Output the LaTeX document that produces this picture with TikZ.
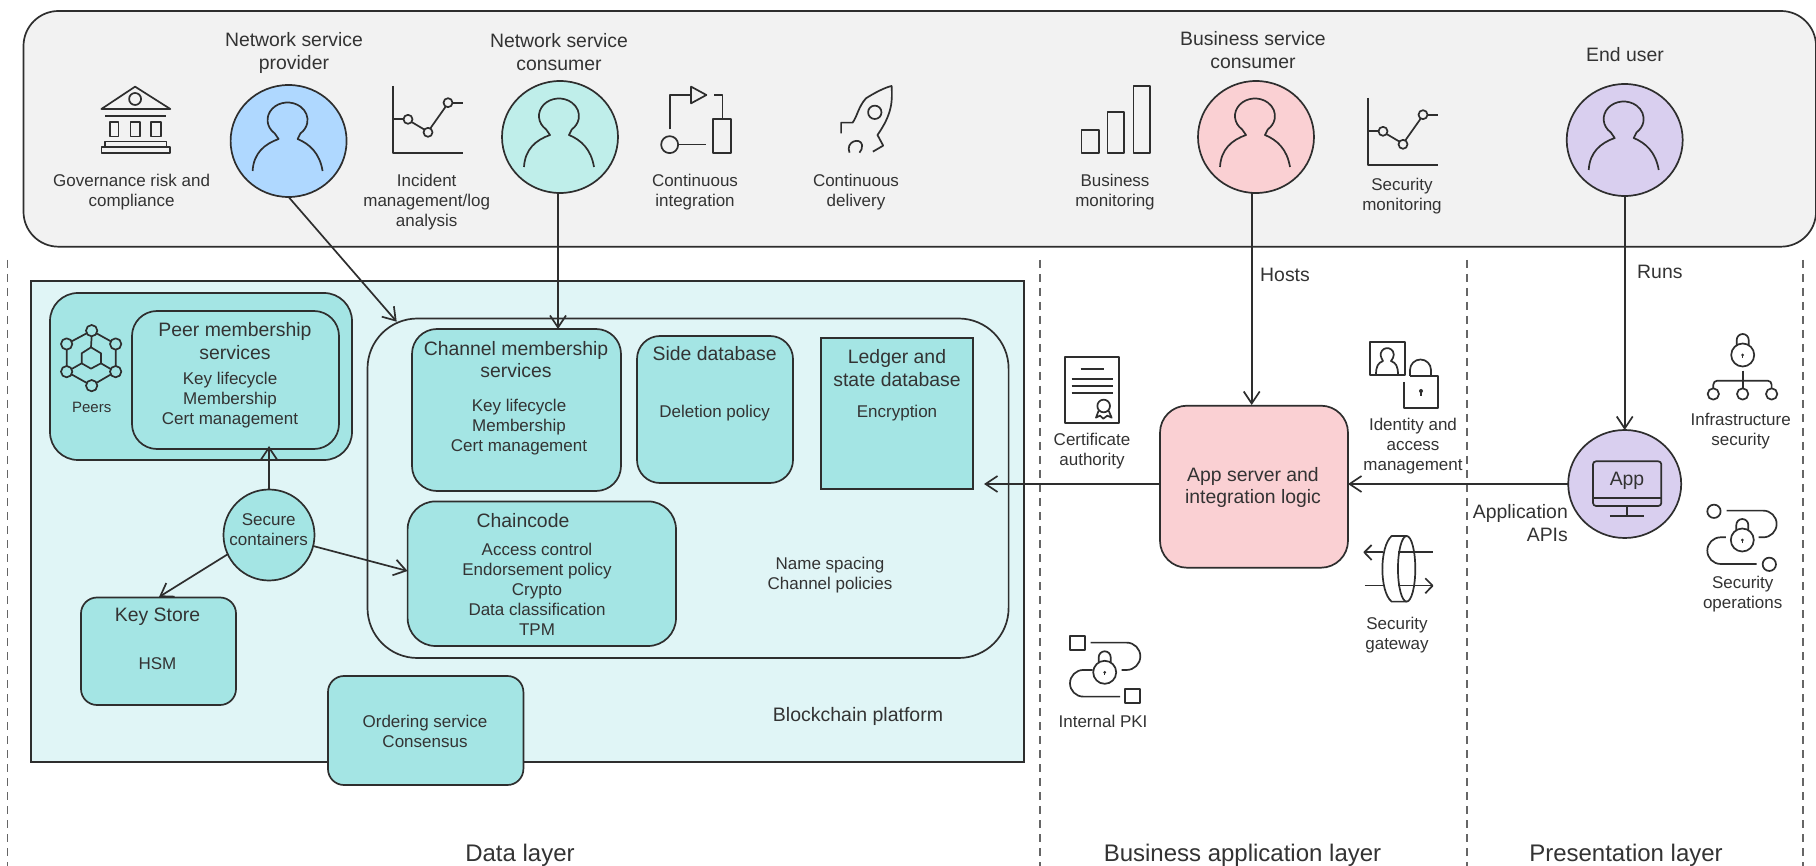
\documentclass[tikz,border=0pt]{standalone}
\usepackage{fontspec}
\setmainfont{Liberation Sans}
\usetikzlibrary{arrows.meta,shapes.geometric}
\definecolor{ink}{HTML}{2E2E2E}
\definecolor{txt}{HTML}{333333}
\definecolor{panel}{HTML}{F2F2F2}
\definecolor{plat}{HTML}{E0F5F6}
\definecolor{teal}{HTML}{A4E5E4}
\definecolor{blueP}{HTML}{AFD8FF}
\definecolor{tealP}{HTML}{BFEEEA}
\definecolor{pinkP}{HTML}{FAD0D3}
\definecolor{lilac}{HTML}{D9CFEF}
\newcommand{\fs}{\fontsize{17}{20}\selectfont}
\newcommand{\fm}{\fontsize{19.4}{22.7}\selectfont}
\newcommand{\fb}{\fontsize{24}{27}\selectfont}
\newcommand{\mkbox}[7][]{%
  \pgfmathsetmacro\cxx{(#4+#6)/2}\pgfmathsetmacro\cyy{(#5+#7)/2}%
  \pgfmathsetmacro\wdd{#6-#4}\pgfmathsetmacro\htt{#7-#5}%
  \node[boxnode,#1,fill=#3,minimum width=\wdd pt,minimum height=\htt pt] (#2) at (\cxx,\cyy) {};}
\newcommand{\mkell}[6]{%
  \node[ellnode,fill=#2,minimum width=#5 pt,minimum height=#6 pt] (#1) at (#3,#4) {};}
\tikzset{
  x=1pt,y=-1pt,
  boxnode/.style={rectangle,draw=ink,line width=1.7pt,inner sep=0pt,outer sep=0pt},
  ellnode/.style={ellipse,draw=ink,line width=1.7pt,inner sep=0pt,outer sep=0pt},
  ts/.style={text=txt,font=\fs,align=center,inner sep=0pt},
  tm/.style={text=txt,font=\fm,align=center,inner sep=0pt},
  tb/.style={text=txt,font=\fb,align=center,inner sep=0pt},
  icon/.style={draw=ink,line width=1.7pt,line join=round},
  conn/.style={draw=ink,line width=1.7pt,-{Straight Barb[length=12pt,width=16pt]}},
  layerline/.style={draw=black!60,line width=1.5pt,dash pattern=on 8pt off 6pt},
  pics/person/.style={code={
    \draw[icon] (-36,30) .. controls (-35,12) and (-24,3) .. (-10,-2) -- (-13.9,-7.6)
      arc[start angle=130,end angle=410,x radius=20,y radius=17.5]
      -- (9,-2) .. controls (21,3) and (31,12) .. (34,30);
  }},
  pics/chart/.style={code={
    \draw[icon] (0,0) -- (0,67) -- (70,67);
    \draw[icon] (0,33.3) -- (10.5,33.3);
    \draw[icon] (15,33.3) circle (4.5);
    \draw[icon] (35,46.3) circle (4.5);
    \draw[icon] (55,16.7) circle (4.5);
    \draw[icon] (18.6,36) -- (31.4,43.6);
    \draw[icon] (37.3,42.4) -- (52.7,20.6);
    \draw[icon] (59.5,16.7) -- (70,16.7);
  }},
  pics/lockicon/.style={code={
    \draw[icon] (0,0) circle (11.5);
    \draw[icon] (-6,-10) -- (-6,-15) arc[start angle=180,end angle=360,radius=6] -- (6,-10);
    \fill[ink] (0,0) circle (1.5);
    \draw[ink,line width=1.1pt] (0,0) -- (0,3);
  }},
}
\begin{document}
\begin{tikzpicture}
\useasboundingbox (0,0) rectangle (1816,866);
\fill[white] (0,0) rectangle (1816,866);
% layer separators
\coordinate (s1a) at (7.6,260); \coordinate (s1b) at (7.6,866);
\coordinate (s2a) at (1040,260); \coordinate (s2b) at (1040,866);
\coordinate (s3a) at (1467,260); \coordinate (s3b) at (1467,866);
\coordinate (s4a) at (1803,260); \coordinate (s4b) at (1803,866);
\draw[layerline] (s1a) -- (s1b);
\draw[layerline] (s2a) -- (s2b);
\draw[layerline] (s3a) -- (s3b);
\draw[layerline] (s4a) -- (s4b);
% top panel
\mkbox[rounded corners=35pt]{toppanel}{panel}{23.5}{11}{1816}{246.7}
% platform
\mkbox{platform}{plat}{31}{281}{1023.7}{762}
\mkbox[rounded corners=28pt]{peers}{teal}{50}{293}{352}{460}
\mkbox[rounded corners=25pt]{peermem}{teal}{132}{311}{339}{449}
\mkbox[rounded corners=50pt]{channel}{plat}{367.5}{318.5}{1008.6}{658}
\mkbox[rounded corners=25pt]{chmem}{teal}{412}{329}{621}{491}
\mkbox[rounded corners=23pt]{sidedb}{teal}{637}{336}{793}{483}
\mkbox{ledger}{teal}{821}{338}{973}{489}
\mkbox[rounded corners=28pt]{chain}{teal}{407.6}{501.4}{676}{646}
\mkbox[rounded corners=16pt]{keystore}{teal}{81}{597.5}{236}{705}
\mkbox[rounded corners=16pt]{ordering}{teal}{328}{676}{523.4}{785}
\mkell{secure}{teal}{269}{535}{91}{91}
\mkbox[rounded corners=27pt]{appserver}{pinkP}{1160}{405.7}{1348}{567.7}
\mkell{appcirc}{lilac}{1624.7}{484}{113}{108}
% persons
\mkell{provider}{blueP}{288.6}{141}{116}{112}
\mkell{nconsumer}{tealP}{560}{137}{116}{112}
\mkell{bconsumer}{pinkP}{1256}{137}{116}{112}
\mkell{enduser}{lilac}{1624.7}{140}{116}{112}
\pic at (provider) {person};
\pic at (nconsumer) {person};
\pic at (bconsumer) {person};
\pic at (enduser) {person};
% top labels
\node[tm] (t1) at (294,53) {Network service\\provider};
\node[tm] (t2) at (559,52) {Network service\\consumer};
\node[tm] (t3) at (1253,50) {Business service\\consumer};
\node[tm] (t4) at (1625,55) {End user};
\node[ts] (t5) at (131.6,192) {Governance risk and\\compliance};
\node[ts] (t6) at (426.7,202) {Incident\\management/log\\analysis};
\node[ts] (t7) at (695,192) {Continuous\\integration};
\node[ts] (t8) at (856,192) {Continuous\\delivery};
\node[ts] (t9) at (1115,192) {Business\\monitoring};
\node[ts] (t10) at (1402,196) {Security\\monitoring};
% bank icon
\begin{scope}[x=.3827pt,y=-.3333pt]
\draw[icon] (265,327) -- (353,260) -- (445,327) -- cycle;
\draw[icon] (353,297) circle[radius=6pt];
\draw[icon] (275,347) -- (433,347);
\draw[icon] (288,367) rectangle (310,410);
\draw[icon] (341,367) rectangle (365,410);
\draw[icon] (395,367) rectangle (420,410);
\draw[icon] (275,425) rectangle (435,442);
\draw[icon] (265,442) rectangle (445,460);
\end{scope}
\pic at (393,86) {chart};
\pic at (1368,98) {chart};
% continuous integration + delivery + bars
\begin{scope}[shift={(600pt,0pt)},x=.3827pt,y=-.3333pt]
\draw[icon] (182,388) -- (182,284) -- (238,284);
\draw[icon] (238,260) -- (278,285) -- (238,310) -- cycle;
\draw[icon] (298,284) -- (320,284) -- (320,358);
\draw[icon] (295,358) rectangle (342,460);
\draw[icon] (182,434) circle[radius=8.5pt];
\draw[icon] (206,434) -- (277,434);
% rocket
\draw[icon] (630,400) -- (630,368) -- (660,368) .. controls (672,350) and (675,320) .. (695,295)
  .. controls (715,280) and (745,262) .. (762,258) .. controls (764,300) and (765,340) .. (725,405)
  -- (740,437) -- (713,455);
\draw[icon] (718,337) circle[radius=6.7pt];
\draw[icon] (652,458) .. controls (640,425) and (680,410) .. (685,435) .. controls (686,445) and (682,452) .. (678,458);
% bars
\draw[icon] (1258,390) rectangle (1303,460);
\draw[icon] (1326,335) rectangle (1370,460);
\draw[icon] (1394,258) rectangle (1438,460);
\end{scope}
% business layer icons
\begin{scope}[shift={(1020pt,-320pt)},x=.3333pt,y=-.3333pt]
% certificate
\draw[icon] (135,110) rectangle (298,308);
\draw[icon] (182,146) -- (252,146);
\draw[icon] (155,177) -- (278,177);
\draw[icon] (155,197) -- (278,197);
\draw[icon] (155,218) -- (278,218);
\draw[icon] (251,258) circle (19);
\draw[icon] (236,272) -- (228,293) -- (240,287) -- (250,296) -- (262,287) -- (275,293) -- (266,272);
% PKI
\draw[icon] (150,948) rectangle (194,990);
\draw[icon] (316,1108) rectangle (360,1150);
\draw[icon] (212,968) -- (320,968) arc[start angle=-90,end angle=90,radius=41] -- (305,1050);
\draw[icon] (218,1050) -- (190,1050) arc[start angle=270,end angle=90,radius=40] -- (300,1130);
% gateway
\draw[icon] (1035,697) -- (1088,697);
\draw[icon] (1055,675) -- (1033,697) -- (1055,720);
\draw[icon] (1035,797) -- (1088,797);
\draw[icon] (1135,697) -- (1238,697);
\draw[icon] (1135,797) -- (1238,797);
\draw[icon] (1216,775) -- (1238,797) -- (1216,820);
\draw[icon] (1160,648) -- (1115,648) .. controls (1078,680) and (1078,815) .. (1115,845) -- (1160,845);
\draw[icon] (1160,746.5) circle[x radius=26,y radius=98.5];
\end{scope}
% locks
\pic at (1104.7,672.3) {lockicon};
\pic at (1742.7,355) {lockicon};
\pic at (1742.3,540) {lockicon};
% identity icon
\draw[icon] (1370,342) rectangle (1405,375);
\draw[icon] (1376,375) .. controls (1376,366) and (1378,363) .. (1383,361) -- (1381.5,358)
  arc[start angle=150,end angle=390,radius=6.6] -- (1391,361) .. controls (1396,363) and (1398,366) .. (1398,375);
\draw[icon] (1404,382) -- (1404,408) -- (1438,408) -- (1438,376) -- (1410,376);
\draw[icon] (1410,376) -- (1410,370) arc[start angle=180,end angle=360,radius=10.5] -- (1431,376);
\fill[ink] (1421,391) circle (2);
\draw[ink,line width=1.1pt] (1421,391) -- (1421,396);
% presentation icons
\begin{scope}[shift={(1420pt,-320pt)},x=.3333pt,y=-.3333pt]
\draw[icon] (968,152) -- (968,204);
\draw[icon,rounded corners=4pt] (880,204) -- (880,182) -- (1055,182) -- (1055,204);
\draw[icon] (880,222) circle (17);
\draw[icon] (968,222) circle (17);
\draw[icon] (1055,222) circle (17);
\draw[icon] (882,574) circle (20);
\draw[icon] (1048,733) circle (20);
\draw[icon] (920,572) -- (1030,572) arc[start angle=-90,end angle=90,radius=40] -- (1016,652);
\draw[icon] (918,652) -- (902,652) arc[start angle=270,end angle=90,radius=40] -- (1010,732);
% monitor
\draw[icon,rounded corners=3pt] (519,424) rectangle (724,558);
\draw[icon] (519,535) -- (724,535);
\draw[icon] (620,558) -- (620,588);
\draw[icon] (570,589) -- (672,589);
\end{scope}
% box labels
\node[tm] (l1) at (235,341) {Peer membership\\services};
\node[ts] (l2) at (230,400) {Key lifecycle\\Membership\\Cert management};
\node[text=txt,font=\fontsize{15}{18}\selectfont,inner sep=0pt] (l3) at (91.7,407) {Peers};
\node[ts] (l4) at (268.7,530) {Secure\\containers};
\node[tm] (l5) at (516,359.5) {Channel membership\\services};
\node[ts] (l6) at (519,427) {Key lifecycle\\Membership\\Cert management};
\node[tm] (l7) at (714.7,354) {Side database};
\node[ts] (l8) at (714.7,413) {Deletion policy};
\node[tm] (l9) at (897,368) {Ledger and\\state database};
\node[ts] (l10) at (897,413) {Encryption};
\node[tm] (l11) at (523,521) {Chaincode};
\node[ts] (l12) at (537,589) {Access control\\Endorsement policy\\Crypto\\Data classification\\TPM};
\node[ts] (l13) at (830,575) {Name spacing\\Channel policies};
\node[tm,font=\fontsize{19.5}{22}\selectfont] (l14) at (858,716) {Blockchain platform};
\node[tm] (l15) at (157.5,617) {Key Store};
\node[ts] (l16) at (157.5,663.5) {HSM};
\node[ts] (l17) at (425,731.5) {Ordering service\\Consensus};
\node[tm] (l18) at (1253,487.5) {App server and\\integration logic};
\node[ts] (l19) at (1092,451) {Certificate\\authority};
\node[ts] (l20) at (1103,721) {Internal PKI};
\node[ts] (l21) at (1413,446) {Identity and\\access\\management};
\node[ts] (l22) at (1397,635) {Security\\gateway};
\node[ts] (l23) at (1740.7,431) {Infrastructure\\security};
\node[ts] (l24) at (1742.7,594) {Security\\operations};
\node[tm] (l25) at (1627,480.7) {App};
\node[tm,align=right,anchor=east] (l26) at (1568,523) {Application\\APIs};
\node[tm,anchor=west] (l27) at (1260,274.5) {Hosts};
\node[tm,anchor=west] (l28) at (1637,272) {Runs};
\node[tb] (l29) at (520,855) {Data layer};
\node[tb] (l30) at (1242.5,855) {Business application layer};
\node[tb] (l31) at (1626,855) {Presentation layer};
% connectors
\coordinate (cprov) at (396.7,321.7);
\coordinate (lend) at (984,484);
\coordinate (kend) at (159,597);
\coordinate (uptip) at (269,446);
\draw[conn] (provider.south) -- (cprov);
\draw[conn] (nconsumer.south -| 558,0) -- (558,329);
\draw[conn] (bconsumer.south -| 1251.7,0) -- (1251.7,405);
\draw[conn] (enduser.south) -- (appcirc.north);
\draw[conn] (appcirc.west) -- (appserver.east |- appcirc.west);
\draw[conn] (appserver.west |- lend) -- (lend);
\draw[conn] (secure.north) -- (uptip);
\draw[conn] (secure.-14) -- (chain.west |- 0,571);
\draw[conn] (secure.205) -- (kend);
% peers hex icon
\begin{scope}[shift={(0pt,-270pt)},x=.3333pt,y=-.3333pt]
\draw[icon] (275,182) -- (347,222) -- (347,305) -- (275,347) -- (200,305) -- (200,222) -- cycle;
\draw[icon] (273,232) -- (303,250) -- (303,280) -- (273,296) -- (245,280) -- (245,250) -- cycle;
\draw[icon] (275,199) -- (273,232);
\draw[icon] (303,280) -- (332,297);
\draw[icon] (245,280) -- (215,297);
\foreach \nx/\ny in {275/182,347/222,347/305,275/347,200/305,200/222}
  \draw[icon,fill=teal] (\nx,\ny) circle (17);
\end{scope}
\end{tikzpicture}
\end{document}
